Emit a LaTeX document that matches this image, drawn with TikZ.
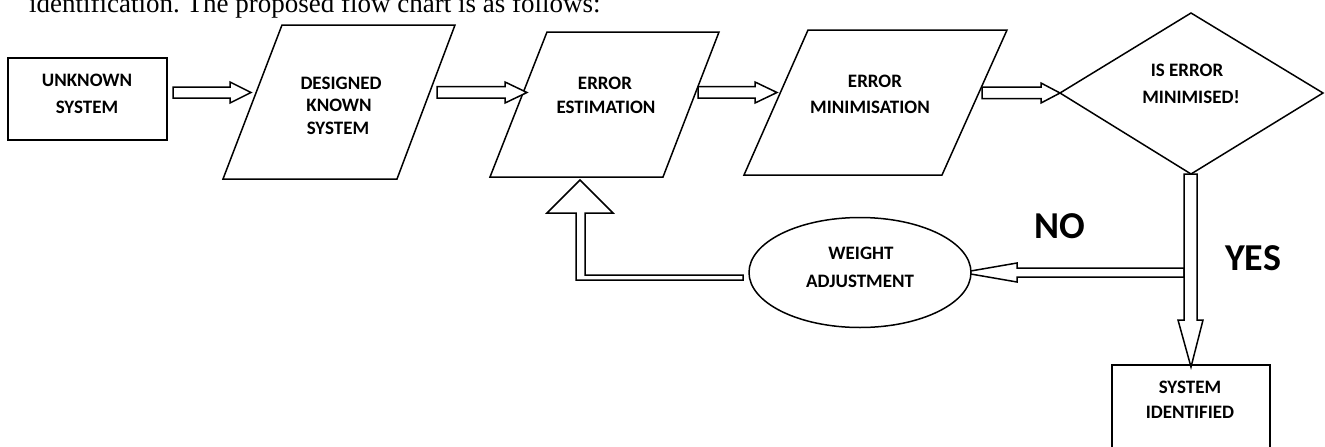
\documentclass[tikz,border=0pt]{standalone}
\usepackage{fontspec}
\setmainfont{Liberation Serif}
\setsansfont{Carlito}
\begin{document}
\frenchspacing
\begin{tikzpicture}[x=1pt,y=-1pt,
  shp/.style={draw=black, line width=1.5pt, fill=white, line join=miter},
  blk/.style={draw=black, line width=1.5pt, fill=white, line join=miter},
  lbl/.style={font=\sffamily\bfseries\fontsize{19}{19}\selectfont, anchor=base, inner sep=0pt},
  big/.style={font=\sffamily\bfseries\fontsize{38}{38}\selectfont, anchor=base, inner sep=0pt}]
\useasboundingbox (0,0) rectangle (1325,447);

% intro line (cut at the top, as in the reference)
\node[anchor=base west, inner sep=0pt, font=\fontsize{27}{27}\selectfont] (intro) at (29,12.5)
  {identification. The proposed flow chart is as follows:};

% block arrow drawn below the ellipse
\draw[blk] (1184,268) -- (1017,268) -- (1017,263) -- (962,272.5) -- (1017,282) -- (1017,277) -- (1184,277) -- cycle;

% shapes
\draw[shp] (8,58) rectangle (167,140);
\draw[shp] (282,25) -- (455,25) -- (397,179) -- (223,179) -- cycle;
\draw[shp] (547,32) -- (719,32) -- (663,177) -- (490,177) -- cycle;
\draw[shp] (808,30) -- (1007,30) -- (942,175) -- (744,175) -- cycle;
\draw[shp] (1191,13) -- (1323,93) -- (1191,174) -- (1060,93) -- cycle;
\draw[shp] (860,272.5) ellipse [x radius=111, y radius=55];
\draw[shp] (1112,365) rectangle (1270,470);

% block arrows
\draw[blk] (173,87) -- (230,87) -- (230,82) -- (251,92.5) -- (230,103) -- (230,98) -- (173,98) -- cycle;
\draw[blk] (437,86.5) -- (505,86.5) -- (505,82) -- (527,92.5) -- (505,103) -- (505,98) -- (437,98) -- cycle;
\draw[blk] (698,86.5) -- (755,86.5) -- (755,82) -- (777,92.5) -- (755,103) -- (755,98) -- (698,98) -- cycle;
\draw[blk] (982,87) -- (1041,87) -- (1041,83) -- (1060,93) -- (1041,103) -- (1041,98.5) -- (982,98.5) -- cycle;
\draw[blk] (1184,174) -- (1184,320) -- (1178,320) -- (1191,367) -- (1203,320) -- (1197,320) -- (1197,174) -- cycle;
\draw[blk] (743,275) -- (585,275) -- (585,213) -- (613,213) -- (580,180) -- (547,213) -- (576,213) -- (576,280) -- (743,280) -- cycle;

% labels
\node[lbl] (uk1) at (87,86.5) {UNKNOWN};
\node[lbl] (uk2) at (87,113.5) {SYSTEM};
\node[lbl] (dk1) at (341,89.5) {DESIGNED};
\node[lbl] (dk2) at (339,111.5) {KNOWN};
\node[lbl] (dk3) at (338,134.5) {SYSTEM};
\node[lbl] (ee1) at (605,89) {ERROR};
\node[lbl] (ee2) at (606,113) {ESTIMATION};
\node[lbl] (em1) at (875,87.5) {ERROR};
\node[lbl] (em2) at (870,113.5) {MINIMISATION};
\node[lbl] (im1) at (1187,76.5) {IS ERROR};
\node[lbl] (im2) at (1191,103.5) {MINIMISED!};
\node[lbl] (wa1) at (861,259.5) {WEIGHT};
\node[lbl] (wa2) at (860,287.5) {ADJUSTMENT};
\node[lbl] (si1) at (1190,393) {SYSTEM};
\node[lbl] (si2) at (1190,418) {IDENTIFIED};
\node[big] (no) at (1060,238.5) {NO};
\node[big] (yes) at (1253,270) {YES};
\end{tikzpicture}
\end{document}
